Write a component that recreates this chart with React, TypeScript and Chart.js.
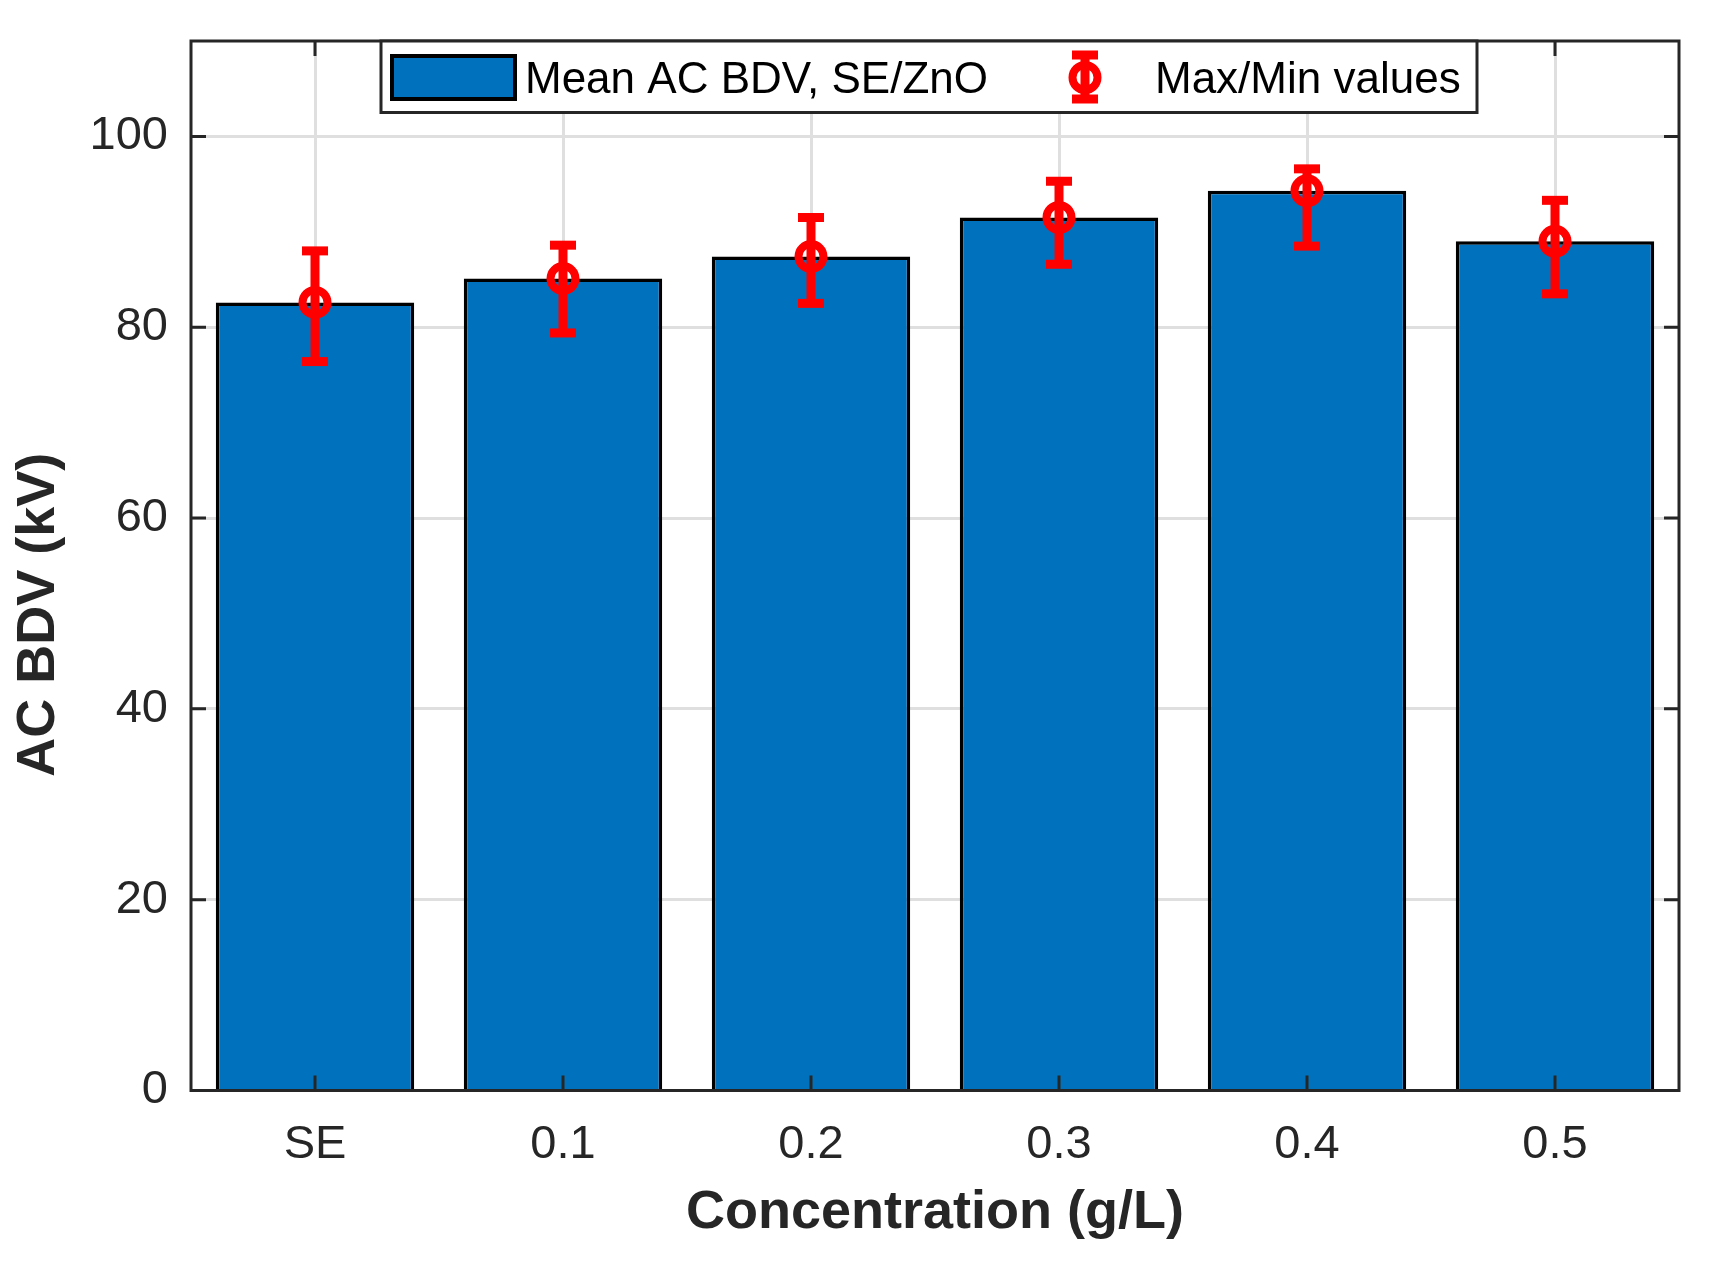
import { useEffect, useRef } from "react"
import { Chart, registerables } from "chart.js"

Chart.register(...registerables)

const categories = ["SE", "0.1", "0.2", "0.3", "0.4", "0.5"]
const meanBDV = [82.6, 85.1, 87.4, 91.5, 94.3, 89.0]
const maxBDV = [88.0, 88.6, 91.5, 95.3, 96.6, 93.3]
const minBDV = [76.4, 79.4, 82.5, 86.6, 88.5, 83.5]
const yTicks = [0, 20, 40, 60, 80, 100]
const seriesLabels = ["Mean AC BDV, SE/ZnO", "Max/Min values"]
const xTitle = "Concentration (g/L)"
const yTitle = "AC BDV (kV)"

const FONT = '"Liberation Sans", Arial, Helvetica, sans-serif'
const AXIS = "#262626"
const GRID = "#dfdfdf"
const BLUE = "#0072BD"
const RED = "#FF0000"

// draws a red whisker with caps, same look for plot and legend
function drawWhisker(ctx: CanvasRenderingContext2D, x: number, top: number, bottom: number) {
  ctx.fillStyle = RED
  ctx.fillRect(x - 4.5, top, 9, bottom - top)
  ctx.fillRect(x - 13, top - 4.5, 26, 9)
  ctx.fillRect(x - 13, bottom - 4.5, 26, 9)
}

// MATLAB style box with inward ticks on all four sides
const boxPlugin = {
  id: "box",
  afterDatasetsDraw(chart: any) {
    const { ctx, chartArea: a, scales } = chart
    const tick = 15
    ctx.save()
    ctx.strokeStyle = AXIS
    ctx.lineWidth = 3
    ctx.beginPath()
    yTicks.forEach((v) => {
      const py = scales.y.getPixelForValue(v)
      ctx.moveTo(a.left, py)
      ctx.lineTo(a.left + tick, py)
      ctx.moveTo(a.right, py)
      ctx.lineTo(a.right - tick, py)
    })
    categories.forEach((_, i) => {
      const px = scales.x.getPixelForValue(i)
      ctx.moveTo(px, a.bottom)
      ctx.lineTo(px, a.bottom - tick)
      ctx.moveTo(px, a.top)
      ctx.lineTo(px, a.top + tick)
    })
    ctx.stroke()
    ctx.strokeRect(a.left, a.top, a.right - a.left, a.bottom - a.top)
    ctx.restore()
  },
}

const errorBarPlugin = {
  id: "errorBars",
  afterDatasetsDraw(chart: any) {
    const { ctx, scales } = chart
    ctx.save()
    categories.forEach((_, i) => {
      const px = scales.x.getPixelForValue(i)
      drawWhisker(ctx, px, scales.y.getPixelForValue(maxBDV[i]), scales.y.getPixelForValue(minBDV[i]))
    })
    ctx.restore()
  },
}

const legendPlugin = {
  id: "insideLegend",
  afterDraw(chart: any) {
    const { ctx, chartArea: a } = chart
    const left = a.left + 190
    const top = a.top
    ctx.save()
    ctx.fillStyle = "#ffffff"
    ctx.fillRect(left, top, 1096, 71.5)
    ctx.strokeStyle = AXIS
    ctx.lineWidth = 3
    ctx.strokeRect(left, top, 1096, 71.5)

    // bar swatch
    ctx.fillStyle = BLUE
    ctx.fillRect(left + 11, top + 15, 123, 43)
    ctx.strokeStyle = "#000"
    ctx.lineWidth = 4
    ctx.strokeRect(left + 11, top + 15, 123, 43)

    ctx.fillStyle = "#000"
    ctx.font = `44px ${FONT}`
    ctx.textBaseline = "alphabetic"
    ctx.textAlign = "left"
    ctx.fillText(seriesLabels[0], left + 144, top + 52)

    // error bar glyph
    const gx = left + 704
    drawWhisker(ctx, gx, top + 14, top + 58)
    ctx.strokeStyle = RED
    ctx.lineWidth = 8
    ctx.beginPath()
    ctx.arc(gx, top + 36.5, 12.5, 0, Math.PI * 2)
    ctx.stroke()

    ctx.fillStyle = "#000"
    ctx.fillText(seriesLabels[1], left + 774, top + 52)
    ctx.restore()
  },
}

const yTitlePlugin = {
  id: "yTitle",
  afterDraw(chart: any) {
    const { ctx, chartArea: a } = chart
    ctx.save()
    ctx.translate(a.left - 137, (a.top + a.bottom) / 2 + 49)
    ctx.rotate(-Math.PI / 2)
    ctx.fillStyle = AXIS
    ctx.font = `bold 54px ${FONT}`
    ctx.textAlign = "center"
    ctx.textBaseline = "alphabetic"
    ctx.fillText(yTitle, 0, 0)
    ctx.restore()
  },
}

export default function App() {
  const chartRef = useRef<HTMLCanvasElement | null>(null)
  const chartInstance = useRef<Chart | null>(null)

  useEffect(() => {
    if (!chartRef.current) return
    if (chartInstance.current) {
      chartInstance.current.destroy()
    }

    chartInstance.current = new Chart(chartRef.current, {
      type: "bar",
      data: {
        labels: categories,
        datasets: [
          {
            type: "bar",
            label: seriesLabels[0],
            data: meanBDV,
            backgroundColor: BLUE,
            borderColor: "#000000",
            borderWidth: 3.5,
            barPercentage: 0.8,
            categoryPercentage: 1,
            order: 2,
          },
          {
            type: "line",
            label: seriesLabels[1],
            data: meanBDV,
            showLine: false,
            pointRadius: 12.5,
            pointHoverRadius: 12.5,
            pointBorderWidth: 8,
            pointBorderColor: RED,
            pointBackgroundColor: "rgba(0,0,0,0)",
            order: 1,
          },
        ],
      },
      options: {
        animation: false,
        responsive: false,
        events: [],
        layout: { padding: { top: 41, right: 49, left: 0, bottom: 0 } },
        plugins: {
          legend: { display: false },
          tooltip: { enabled: false },
        },
        scales: {
          x: {
            grid: { offset: false, color: GRID, lineWidth: 3, drawTicks: false },
            border: { display: false },
            ticks: { color: AXIS, font: { family: FONT, size: 47 }, padding: 26 },
            title: {
              display: true,
              text: xTitle,
              color: AXIS,
              font: { family: FONT, size: 54, weight: "bold" },
              padding: { top: 0, bottom: 15 },
            },
            afterFit: (scale: any) => {
              scale.height = 170.5
              scale.paddingLeft = 0
              scale.paddingRight = 0
            },
          },
          y: {
            min: 0,
            max: 110,
            afterBuildTicks: (scale: any) => {
              scale.ticks = yTicks.map((v) => ({ value: v }))
            },
            grid: { color: GRID, lineWidth: 3, drawTicks: false },
            border: { display: false },
            ticks: { color: AXIS, font: { family: FONT, size: 47 }, padding: 23 },
            afterFit: (scale: any) => {
              scale.width = 191
              scale.paddingTop = 0
              scale.paddingBottom = 0
            },
          },
        },
      },
      plugins: [boxPlugin, errorBarPlugin, legendPlugin, yTitlePlugin],
    })

    return () => {
      if (chartInstance.current) {
        chartInstance.current.destroy()
        chartInstance.current = null
      }
    }
  }, [])

  return (
    <div style={{ position: "fixed", left: 0, top: 0, width: 1728, height: 1261, background: "#ffffff" }}>
      <canvas ref={chartRef} width={1728} height={1261} style={{ display: "block" }}></canvas>
    </div>
  )
}
